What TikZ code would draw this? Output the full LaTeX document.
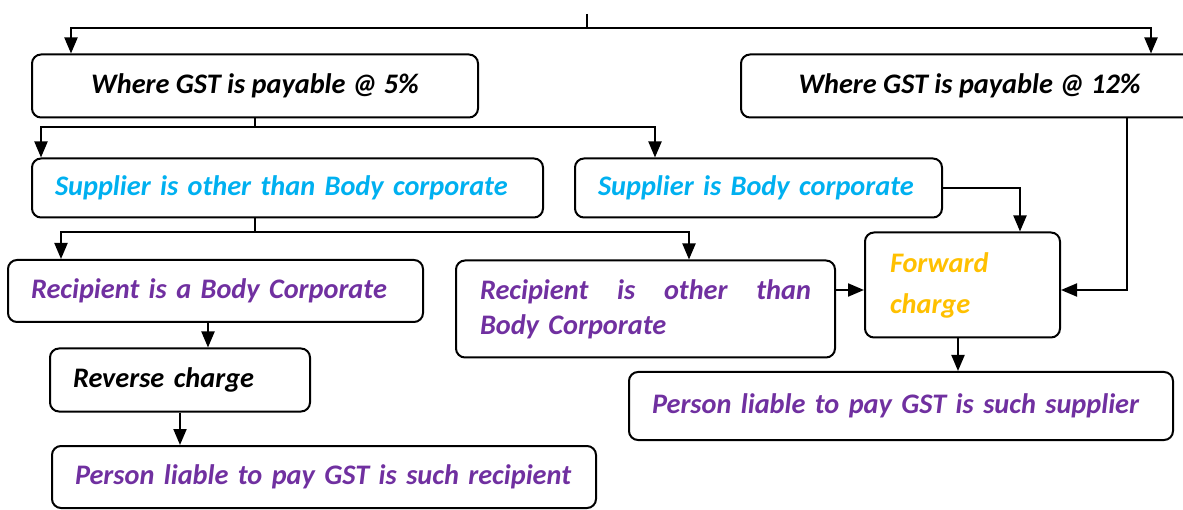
\documentclass[tikz,border=0pt]{standalone}
\usepackage{fontspec}
\setmainfont{Carlito}
\usetikzlibrary{arrows.meta}
\definecolor{skyblue}{HTML}{00B0F0}
\definecolor{plum}{HTML}{7030A0}
\definecolor{amber}{HTML}{FFC000}
\begin{document}
\begin{tikzpicture}[x=1pt,y=-1pt,
  box/.style={draw, line width=2pt, rounded corners=9pt, inner sep=0pt,
    font=\fontsize{28.3}{34}\selectfont\bfseries\itshape},
  wire/.style={line width=2pt},
  arr/.style={wire, -{Triangle[length=16pt,width=13pt]}}]
\useasboundingbox (0,0) rectangle (1183,510);
\clip (0,0) rectangle (1183,510);

% rate boxes
\node[box, minimum width=446pt, minimum height=63pt, align=center] (b1) at (255,86) {Where GST is payable @ 5\%};
\node[box, minimum width=457pt, minimum height=63pt, align=center] (b2) at (969.5,86) {Where GST is payable @ 12\%};

% supplier boxes
\node[box, minimum width=511pt, minimum height=59pt, text width=465pt, align=left, text=skyblue] (b3) at (287.5,188) {Supplier is other than Body corporate};
\node[box, minimum width=367pt, minimum height=59pt, text width=321pt, align=left, text=skyblue] (b4) at (758.5,188) {Supplier is Body corporate};

% recipient boxes
\node[box, minimum width=415pt, minimum height=62pt, text width=369pt, align=left, text=plum] (b5) at (215.5,291) {Recipient is a Body Corporate};
\node[box, minimum width=379pt, minimum height=97pt, text width=331pt, align=left, text=plum,
  font=\fontsize{28.3}{35}\selectfont\bfseries\itshape] (b6) at (645.5,309)
  {\hbox to 331pt{Recipient\hfill is\hfill other\hfill than}\\Body Corporate};

% charge boxes
\node[box, minimum width=195pt, minimum height=105pt, text width=145pt, align=left, text=amber,
  font=\fontsize{28.3}{41}\selectfont\bfseries\itshape] (fw) at (962.5,285) {Forward\\charge};
\node[box, minimum width=260pt, minimum height=63pt, text width=214pt, align=left] (rv) at (180,380) {Reverse charge};

% liability boxes
\node[box, minimum width=544pt, minimum height=62pt, text width=498pt, align=left, text=plum] (pr) at (324,477) {Person liable to pay GST is such recipient};
\node[box, minimum width=544pt, minimum height=68pt, text width=498pt, align=left, text=plum] (ps) at (901,406) {Person liable to pay GST is such supplier};

% junctions
\coordinate (top) at (587,14);
\coordinate (j0) at (587,28);
\coordinate (j1) at (255,127);
\coordinate (j2) at (255,232);

% connectors
\draw[wire] (top) -- (j0);
\draw[arr] (j0) -| ([xshift=40pt]b1.north west);
\draw[arr] (j0) -| ([xshift=411pt]b2.north west);

\draw[wire] (b1.south) -- (j1);
\draw[arr] (j1) -| ([xshift=10pt]b3.north west);
\draw[arr] (j1) -| ([xshift=81pt]b4.north west);

\draw[arr] (b4.east) -| ([xshift=156pt]fw.north west);

\draw[wire] (b3.south -| j2) -- (j2);
\draw[arr] (j2) -| ([xshift=54pt]b5.north west);
\draw[arr] (j2) -| ([xshift=234pt]b6.north west);

\draw[arr] ([yshift=19pt]b6.east) -- ([yshift=19pt]b6.east -| fw.west);
\draw[arr] ([xshift=387pt]b2.south west) |- ([yshift=-5pt]fw.east);

\draw[arr] ([xshift=-7.5pt]b5.south) -- ([xshift=-7.5pt]b5.south |- rv.north);
\draw[arr] (rv.south) -- (rv.south |- pr.north);
\draw[arr] ([xshift=-4.5pt]fw.south) -- ([xshift=-4.5pt]fw.south |- ps.north);
\end{tikzpicture}
\end{document}
